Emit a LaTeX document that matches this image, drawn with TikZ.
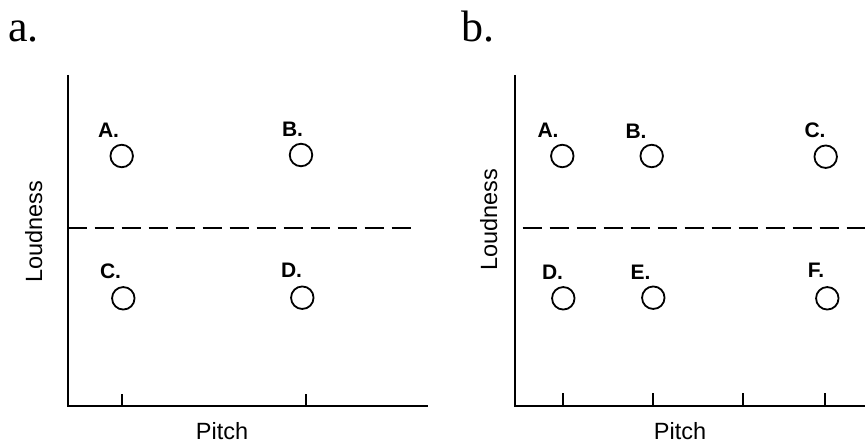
\documentclass[tikz,border=0pt]{standalone}
\usepackage{fontspec}
\newfontfamily\hv{Liberation Sans}
\newfontfamily\tms{Liberation Serif}
\begin{document}
\begin{tikzpicture}[x=1pt,y=-1pt,
  axis/.style={line width=1.8pt},
  divider/.style={line width=2.4pt,dash pattern=on 19pt off 8pt},
  pt/.style={circle,draw,line width=1.8pt,minimum size=22.5pt,inner sep=0pt},
  lbl/.style={anchor=base,font=\hv\bfseries\fontsize{21}{24}\selectfont,inner sep=0pt},
  axlbl/.style={anchor=base,font=\hv\fontsize{23.5}{28}\selectfont,inner sep=0pt},
  panel/.style={anchor=base west,font=\tms\fontsize{44}{50}\selectfont,inner sep=0pt}]
\useasboundingbox (0,0) rectangle (865,444);
% panel labels
\node[panel] (pa) at (8,42) {a.};
\node[panel] (pb) at (461,42) {b.};
% ---------- panel a ----------
\coordinate (aTop) at (67.7,75);
\coordinate (aO) at (67.7,405.7);
\coordinate (aR) at (427.7,405.7);
\draw[axis] (aTop) -- (aO) -- (aR);
\coordinate (at1) at (121.7,394.3); \coordinate (at1b) at (121.7,405.7);
\coordinate (at2) at (305.7,394.3); \coordinate (at2b) at (305.7,405.7);
\draw[axis] (at1) -- (at1b);
\draw[axis] (at2) -- (at2b);
\coordinate (adL) at (67.7,227.7); \coordinate (adR) at (416,227.7);
\draw[divider] (adL) -- (adR);
\node[pt] (aA) at (121.7,156) {};
\node[pt] (aB) at (301,155) {};
\node[pt] (aC) at (123.3,298.3) {};
\node[pt] (aD) at (302.3,297.7) {};
\node[lbl] (laA) at (108.5,137) {A.};
\node[lbl] (laB) at (292.5,136) {B.};
\node[lbl] (laC) at (110.5,278) {C.};
\node[lbl] (laD) at (291.5,277) {D.};
\node[axlbl,rotate=90] (aY) at (42,232) {Loudness};
\node[axlbl] (aX) at (222,439) {Pitch};
% ---------- panel b ----------
\coordinate (bTop) at (515,75);
\coordinate (bO) at (515,405.7);
\coordinate (bR) at (866,405.7);
\draw[axis] (bTop) -- (bO) -- (bR);
\foreach \i/\x in {1/562.7,2/652.7,3/743.3,4/825}{
  \coordinate (bt\i) at (\x,393.3); \coordinate (bt\i b) at (\x,405.7);
  \draw[axis] (bt\i) -- (bt\i b);}
\coordinate (bdL) at (522.7,227.7); \coordinate (bdR) at (866,227.7);
\draw[divider] (bdL) -- (bdR);
\node[pt] (bA) at (562.3,156) {};
\node[pt] (bB) at (651.7,156) {};
\node[pt] (bC) at (825.7,156.7) {};
\node[pt] (bD) at (563.3,298.3) {};
\node[pt] (bE) at (653.3,297.7) {};
\node[pt] (bF) at (827.3,298.3) {};
\node[lbl] (lbA) at (548,137) {A.};
\node[lbl] (lbB) at (636,138) {B.};
\node[lbl] (lbC) at (815,137) {C.};
\node[lbl] (lbD) at (552.5,279) {D.};
\node[lbl] (lbE) at (640.5,279) {E.};
\node[lbl] (lbF) at (816,277) {F.};
\node[axlbl,rotate=90] (bY) at (497,220) {Loudness};
\node[axlbl] (bX) at (680,439) {Pitch};
\end{tikzpicture}
\end{document}
